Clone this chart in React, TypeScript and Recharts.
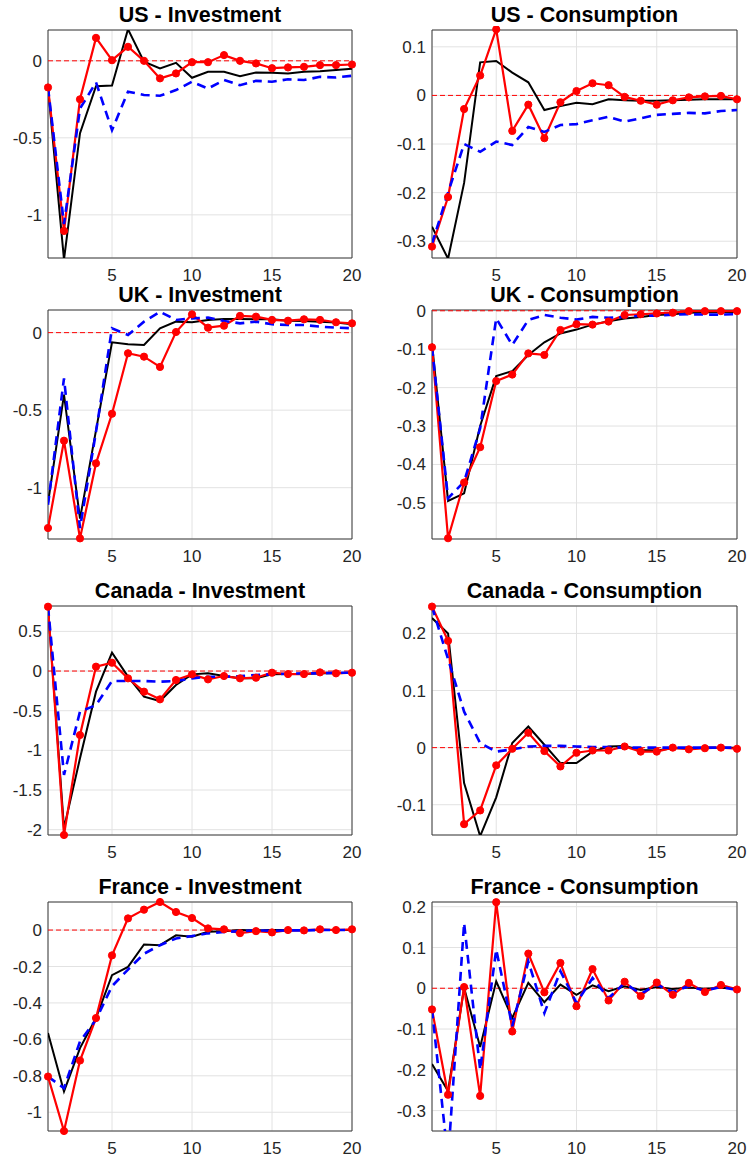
import { LineChart, Line, XAxis, YAxis, CartesianGrid, ReferenceLine, ReferenceArea } from "recharts";

const periods = [1, 2, 3, 4, 5, 6, 7, 8, 9, 10, 11, 12, 13, 14, 15, 16, 17, 18, 19, 20];
const xTicks = [5, 10, 15, 20];

// US
const usInvBlack = [-0.173, -1.29, -0.47, -0.165, -0.16, 0.205, -0.006, -0.05, -0.013, -0.11, -0.071, -0.071, -0.1, -0.076, -0.078, -0.082, -0.071, -0.067, -0.06, -0.052];
const usInvBlue = [-0.173, -1.06, -0.31, -0.14, -0.45, -0.2, -0.222, -0.227, -0.19, -0.136, -0.18, -0.125, -0.158, -0.13, -0.136, -0.12, -0.125, -0.104, -0.108, -0.097];
const usInvRed = [-0.173, -1.104, -0.25, 0.149, 0.004, 0.091, 0, -0.114, -0.082, -0.009, -0.009, 0.037, 0, -0.017, -0.048, -0.043, -0.039, -0.028, -0.028, -0.024];

const usConBlack = [-0.27, -0.336, -0.18, 0.068, 0.071, 0.047, 0.027, -0.03, -0.022, -0.015, -0.018, -0.008, -0.01, -0.011, -0.011, -0.01, -0.009, -0.008, -0.008, -0.008];
const usConBlue = [-0.305, -0.2, -0.1, -0.116, -0.095, -0.102, -0.065, -0.075, -0.061, -0.059, -0.051, -0.044, -0.054, -0.047, -0.04, -0.038, -0.036, -0.037, -0.032, -0.03];
const usConRed = [-0.311, -0.209, -0.028, 0.041, 0.136, -0.073, -0.019, -0.088, -0.014, 0.009, 0.025, 0.021, -0.003, -0.011, -0.019, -0.01, -0.004, -0.002, -0.001, -0.008];

// UK
const ukInvBlack = [-1.1, -0.4, -1.2, -0.63, -0.062, -0.075, -0.08, 0.028, 0.071, 0.067, 0.082, 0.088, 0.088, 0.086, 0.086, 0.077, 0.075, 0.071, 0.065, 0.054];
const ukInvBlue = [-1.11, -0.295, -1.26, -0.64, 0.028, -0.015, 0.071, 0.135, 0.082, 0.092, 0.097, 0.075, 0.06, 0.071, 0.054, 0.049, 0.049, 0.039, 0.032, 0.028];
const ukInvRed = [-1.26, -0.697, -1.327, -0.843, -0.523, -0.133, -0.155, -0.221, 0.004, 0.118, 0.032, 0.045, 0.108, 0.103, 0.082, 0.077, 0.086, 0.082, 0.067, 0.06];

const ukConBlack = [-0.085, -0.495, -0.475, -0.3, -0.17, -0.157, -0.115, -0.082, -0.059, -0.049, -0.036, -0.027, -0.02, -0.016, -0.011, -0.009, -0.005, -0.004, -0.003, -0.003];
const ukConBlue = [-0.094, -0.488, -0.445, -0.306, -0.02, -0.089, -0.024, -0.011, -0.018, -0.023, -0.016, -0.018, -0.016, -0.013, -0.013, -0.01, -0.009, -0.01, -0.01, -0.009];
const ukConRed = [-0.095, -0.592, -0.447, -0.355, -0.183, -0.166, -0.111, -0.115, -0.05, -0.035, -0.036, -0.028, -0.011, -0.009, -0.007, -0.005, -0.001, -0.001, -0.001, -0.001];

// Canada
const caInvBlack = [0.81, -1.98, -1.1, -0.26, 0.231, -0.071, -0.324, -0.378, -0.176, -0.042, -0.029, -0.063, -0.092, -0.092, -0.042, -0.038, -0.038, -0.029, -0.029, -0.021];
const caInvBlue = [0.81, -1.31, -0.51, -0.43, -0.126, -0.126, -0.126, -0.134, -0.126, -0.092, -0.071, -0.071, -0.063, -0.05, -0.042, -0.034, -0.029, -0.029, -0.021, -0.021];
const caInvRed = [0.811, -2.067, -0.807, 0.055, 0.105, -0.092, -0.26, -0.357, -0.113, -0.042, -0.105, -0.063, -0.092, -0.084, -0.021, -0.038, -0.038, -0.017, -0.029, -0.021];

const caConBlack = [0.227, 0.2, -0.062, -0.155, -0.087, 0.008, 0.037, 0.005, -0.027, -0.027, -0.007, 0.002, 0.003, -0.004, -0.005, -0.001, -0.001, 0, 0, 0];
const caConBlue = [0.247, 0.155, 0.063, 0.008, -0.007, -0.003, 0.002, 0.003, 0.003, 0.002, 0.001, 0.001, 0, 0, 0, 0, 0, 0, 0, 0];
const caConRed = [0.247, 0.187, -0.134, -0.11, -0.031, -0.002, 0.026, -0.006, -0.033, -0.009, -0.005, -0.005, 0.002, -0.007, -0.007, 0, -0.003, -0.001, 0, -0.002];

// France
const frInvBlack = [-0.565, -0.886, -0.648, -0.483, -0.248, -0.202, -0.079, -0.083, -0.029, -0.037, -0.009, -0.006, 0, -0.002, 0, 0, 0, 0, 0, 0];
const frInvBlue = [-0.804, -0.868, -0.611, -0.492, -0.308, -0.217, -0.13, -0.083, -0.046, -0.033, -0.018, -0.011, -0.006, -0.002, -0.004, -0.002, -0.002, 0, 0, 0];
const frInvRed = [-0.804, -1.103, -0.716, -0.483, -0.139, 0.064, 0.112, 0.154, 0.099, 0.066, 0.009, 0.004, -0.017, -0.006, -0.013, 0, -0.002, 0.004, 0, 0.004];

const frConBlack = [-0.186, -0.252, 0.001, -0.144, 0.017, -0.073, 0.013, -0.034, 0.009, -0.016, 0.007, -0.007, 0.005, -0.004, 0.003, -0.002, 0.002, -0.001, 0.001, 0];
const frConBlue = [-0.052, -0.42, 0.16, -0.2, 0.095, -0.093, 0.066, -0.061, 0.042, -0.036, 0.025, -0.024, 0.013, -0.014, 0.009, -0.009, 0.005, -0.006, 0.003, -0.004];
const frConRed = [-0.052, -0.261, 0.003, -0.264, 0.211, -0.106, 0.085, -0.01, 0.062, -0.044, 0.047, -0.03, 0.016, -0.019, 0.014, -0.016, 0.013, -0.009, 0.008, -0.003];

type Panel = {
  title: string;
  black: number[];
  blue: number[];
  red: number[];
  domain: [number, number];
  yTicks: number[];
  col: number;
  row: number;
};

const panels: Panel[] = [
  { title: "US - Investment", black: usInvBlack, blue: usInvBlue, red: usInvRed, domain: [-1.28, 0.2], yTicks: [-1, -0.5, 0], col: 0, row: 0 },
  { title: "US - Consumption", black: usConBlack, blue: usConBlue, red: usConRed, domain: [-0.3345, 0.1346], yTicks: [-0.3, -0.2, -0.1, 0, 0.1], col: 1, row: 0 },
  { title: "UK - Investment", black: ukInvBlack, blue: ukInvBlue, red: ukInvRed, domain: [-1.331, 0.146], yTicks: [-1, -0.5, 0], col: 0, row: 1 },
  { title: "UK - Consumption", black: ukConBlack, blue: ukConBlue, red: ukConRed, domain: [-0.594, 0.002], yTicks: [-0.5, -0.4, -0.3, -0.2, -0.1, 0], col: 1, row: 1 },
  { title: "Canada - Investment", black: caInvBlack, blue: caInvBlue, red: caInvRed, domain: [-2.067, 0.82], yTicks: [-2, -1.5, -1, -0.5, 0, 0.5], col: 0, row: 2 },
  { title: "Canada - Consumption", black: caConBlack, blue: caConBlue, red: caConRed, domain: [-0.153, 0.248], yTicks: [-0.1, 0, 0.1, 0.2], col: 1, row: 2 },
  { title: "France - Investment", black: frInvBlack, blue: frInvBlue, red: frInvRed, domain: [-1.103, 0.154], yTicks: [-1, -0.8, -0.6, -0.4, -0.2, 0], col: 0, row: 3 },
  { title: "France - Consumption", black: frConBlack, blue: frConBlue, red: frConRed, domain: [-0.35, 0.2115], yTicks: [-0.3, -0.2, -0.1, 0, 0.1, 0.2], col: 1, row: 3 },
];

const colLeft = [48, 432];
const colWidth = [304, 305];
const rowTop = [30, 310, 606, 902];
const rowHeight = [228, 229, 229, 229];

const FONT = "'Liberation Sans', Arial, Helvetica, sans-serif";
const tickStyle = { fontSize: 17, fontFamily: FONT, fill: "#262626" };
const Y_W = 48;

const PanelChart = ({ p }: { p: Panel }) => {
  const plotLeft = colLeft[p.col];
  const plotTop = rowTop[p.row];
  const w = colWidth[p.col];
  const h = rowHeight[p.row];
  const data = periods.map((t, i) => ({ t, black: p.black[i], blue: p.blue[i], red: p.red[i] }));

  return (
    <div style={{ position: "absolute", left: plotLeft - Y_W, top: plotTop - 10 }}>
      <LineChart width={w + Y_W + 10} height={h + 40} data={data} margin={{ top: 10, right: 10, bottom: 0, left: 0 }}>
        <CartesianGrid stroke="#e2e2e2" strokeWidth={1} />
        <XAxis
          dataKey="t"
          type="number"
          domain={[1, 20]}
          ticks={xTicks}
          allowDataOverflow
          axisLine={false}
          tickLine={false}
          tickSize={6}
          tickMargin={5}
          height={30}
          tick={tickStyle}
        />
        <YAxis
          type="number"
          domain={p.domain}
          ticks={p.yTicks}
          allowDataOverflow
          axisLine={false}
          tickLine={false}
          tickSize={6}
          tickMargin={0}
          width={Y_W}
          tick={tickStyle}
        />
        <ReferenceLine y={0} stroke="#ff0000" strokeWidth={1} strokeDasharray="5 3" />
        <Line dataKey="black" stroke="#000000" strokeWidth={2} dot={false} activeDot={false} isAnimationActive={false} />
        <Line dataKey="red" stroke="#ff0000" strokeWidth={2.2} dot={false} activeDot={false} isAnimationActive={false} />
        <Line dataKey="blue" stroke="#0000ff" strokeWidth={2.6} strokeDasharray="9 6" dot={false} activeDot={false} isAnimationActive={false} />
        <Line
          dataKey="red"
          stroke="none"
          dot={{ r: 3.6, fill: "#ff0000", stroke: "#ff0000", strokeWidth: 1, clipDot: false }}
          activeDot={false}
          isAnimationActive={false}
        />
        <ReferenceArea x1={1} x2={20} y1={p.domain[0]} y2={p.domain[1]} fill="none" fillOpacity={0} stroke="#3a3a3a" strokeWidth={1} />
      </LineChart>
    </div>
  );
};

export default function App() {
  return (
    <div style={{ position: "absolute", left: 0, top: 0, width: 749, height: 1162, background: "#fff", overflow: "hidden" }}>
      {panels.map((p) => (
        <PanelChart key={p.title} p={p} />
      ))}
      <svg width={749} height={1162} style={{ position: "absolute", left: 0, top: 0, pointerEvents: "none" }}>
        {panels.map((p) => (
          <text
            key={p.title}
            x={colLeft[p.col] + colWidth[p.col] / 2}
            y={rowTop[p.row] - 8}
            textAnchor="middle"
            fontFamily={FONT}
            fontWeight="bold"
            fontSize={21.5}
            fill="#000"
          >
            {p.title}
          </text>
        ))}
      </svg>
    </div>
  );
}
